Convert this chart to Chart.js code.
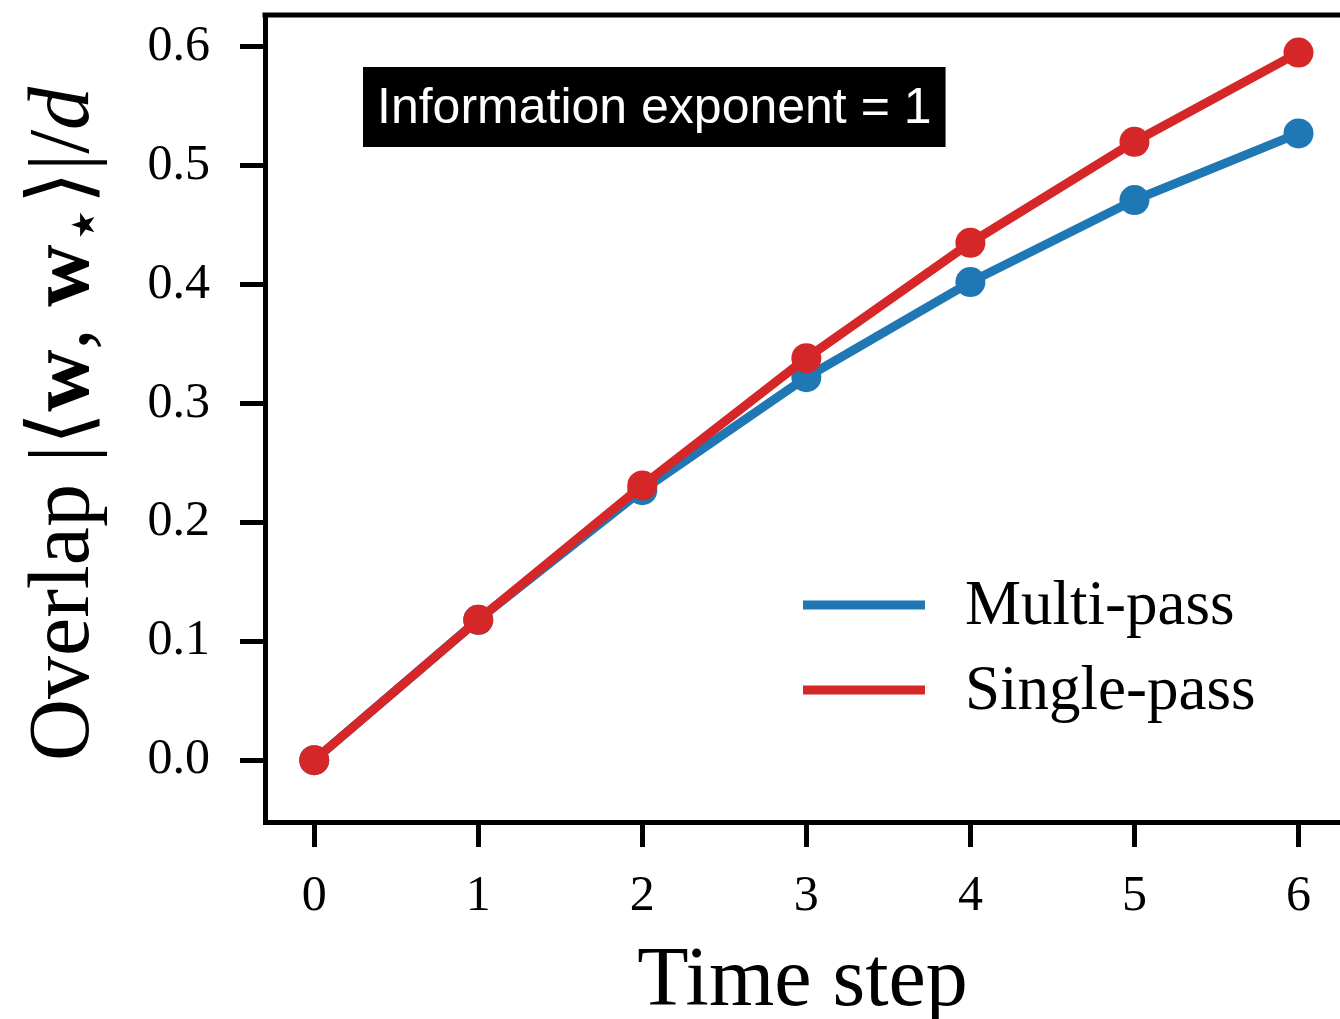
<!DOCTYPE html>
<html>
<head>
<meta charset="utf-8">
<script src="https://cdn.jsdelivr.net/npm/chart.js@4.4.0/dist/chart.umd.min.js"></script>
<style>
  html, body { margin: 0; padding: 0; background: #fff; overflow: hidden; }
  #wrap { width: 1340px; height: 1019px; position: relative; }
</style>
</head>
<body>
<div id="wrap"><canvas id="chart"></canvas></div>
<script>
// Overlap vs time step, for the two training protocols
const steps = [0, 1, 2, 3, 4, 5, 6];
const multiPass = [0.0, 0.118, 0.227, 0.322, 0.402, 0.471, 0.527];
const singlePass = [0.0, 0.118, 0.231, 0.338, 0.435, 0.520, 0.595];
const seriesNames = ["Multi-pass", "Single-pass"];
const xTicks = [0, 1, 2, 3, 4, 5, 6];
const yTicks = [0.0, 0.1, 0.2, 0.3, 0.4, 0.5, 0.6];
const boxText = "Information exponent = 1";

const BLUE = "#1f77b4";
const RED = "#d62728";
const SERIF = '"Liberation Serif", "DejaVu Serif", serif';

const toPoints = (vals) => steps.map((s, i) => ({ x: s, y: vals[i] }));

// no extra edge padding for the end tick labels
const noPad = (scale) => {
  scale.paddingTop = 0;
  scale.paddingBottom = 0;
  scale.paddingLeft = 0;
  scale.paddingRight = 0;
};

// Extra drawing: top frame edge, legend, label box and the y-axis title
const overlayPlugin = {
  id: "overlay",
  afterDraw(chart) {
    const { ctx, chartArea } = chart;
    ctx.save();

    // top edge of the frame
    ctx.strokeStyle = "#000";
    ctx.lineWidth = 5;
    ctx.beginPath();
    ctx.moveTo(chartArea.left - 2.5, chartArea.top);
    ctx.lineTo(chartArea.right, chartArea.top);
    ctx.stroke();

    // legend
    const legX = chartArea.left + 538;
    const legY = chartArea.top + 590;
    chart.data.datasets.forEach((ds, i) => {
      const y = legY + i * 85;
      ctx.strokeStyle = ds.borderColor;
      ctx.lineWidth = 9;
      ctx.lineCap = "butt";
      ctx.beginPath();
      ctx.moveTo(legX, y);
      ctx.lineTo(legX + 122, y);
      ctx.stroke();
      ctx.fillStyle = "#000";
      ctx.font = "63px " + SERIF;
      ctx.textBaseline = "middle";
      ctx.textAlign = "left";
      ctx.fillText(ds.label, legX + 162, y + 2);
    });

    // black label box
    ctx.font = '50px "Liberation Sans", Arial, sans-serif';
    ctx.textBaseline = "middle";
    const tw = ctx.measureText(boxText).width;
    const bx = chartArea.left + 98;
    const by = chartArea.top + 52;
    ctx.fillStyle = "#000";
    ctx.fillRect(bx, by, tw + 28, 80);
    ctx.fillStyle = "#fff";
    ctx.fillText(boxText, bx + 14, by + 42);

    // y-axis title, mixed weights
    const size = 86;
    const parts = [
      { t: "Overlap |\u27E8", f: size + "px " + SERIF },
      { t: "w", f: "bold " + size + "px " + SERIF },
      { t: ", ", f: size + "px " + SERIF },
      { t: "w", f: "bold " + size + "px " + SERIF },
      { t: "\u22C6", f: '64px "DejaVu Sans", sans-serif', dy: 16 },
      { t: "\u27E9|/", f: size + "px " + SERIF },
      { t: "d", f: "italic " + size + "px " + SERIF },
    ];
    let total = 0;
    parts.forEach((p) => {
      ctx.font = p.f;
      p.w = ctx.measureText(p.t).width;
      total += p.w;
    });
    ctx.translate(88, 424);
    ctx.rotate(-Math.PI / 2);
    ctx.fillStyle = "#000";
    ctx.textBaseline = "alphabetic";
    ctx.textAlign = "left";
    let cx = -total / 2;
    parts.forEach((p) => {
      ctx.font = p.f;
      ctx.fillText(p.t, cx, p.dy || 0);
      cx += p.w;
    });

    ctx.restore();
  },
};

const chart = new Chart(document.getElementById("chart"), {
  type: "line",
  data: {
    datasets: [
      {
        label: seriesNames[0],
        data: toPoints(multiPass),
        borderColor: BLUE,
        backgroundColor: BLUE,
        borderWidth: 9,
        pointRadius: 15,
        pointBorderWidth: 0,
        order: 2,
      },
      {
        label: seriesNames[1],
        data: toPoints(singlePass),
        borderColor: RED,
        backgroundColor: RED,
        borderWidth: 9,
        pointRadius: 15,
        pointBorderWidth: 0,
        order: 1,
      },
    ],
  },
  options: {
    responsive: true,
    maintainAspectRatio: false,
    animation: false,
    layout: {
      autoPadding: false,
      padding: { top: 15, right: 0, left: 0, bottom: 0 },
    },
    plugins: {
      legend: { display: false },
      tooltip: { enabled: false },
    },
    scales: {
      x: {
        type: "linear",
        min: -0.3,
        max: 6.253,
        afterBuildTicks: (scale) => {
          scale.ticks = xTicks.map((v) => ({ value: v }));
        },
        afterFit: (scale) => {
          scale.height = 197;
          noPad(scale);
        },
        grid: {
          drawOnChartArea: false,
          tickLength: 25,
          tickWidth: 5,
          tickColor: "#000",
        },
        border: { display: true, color: "#000", width: 5 },
        ticks: {
          color: "#000",
          padding: 20,
          maxRotation: 0,
          font: { family: SERIF, size: 50 },
          callback: (v) => String(v),
        },
        title: {
          display: true,
          text: "Time step",
          color: "#000",
          font: { family: SERIF, size: 84, lineHeight: 0.85 },
          padding: { top: 14, bottom: 0 },
        },
      },
      y: {
        min: -0.052,
        max: 0.6266,
        afterBuildTicks: (scale) => {
          scale.ticks = yTicks.map((v) => ({ value: v }));
        },
        afterFit: (scale) => {
          scale.width = 265;
          noPad(scale);
        },
        grid: {
          drawOnChartArea: false,
          tickLength: 25,
          tickWidth: 5,
          tickColor: "#000",
        },
        border: { display: true, color: "#000", width: 5 },
        ticks: {
          color: "#000",
          padding: 30,
          font: { family: SERIF, size: 50 },
          callback: (v) => Number(v).toFixed(1),
        },
      },
    },
  },
  plugins: [overlayPlugin],
});
</script>
</body>
</html>
